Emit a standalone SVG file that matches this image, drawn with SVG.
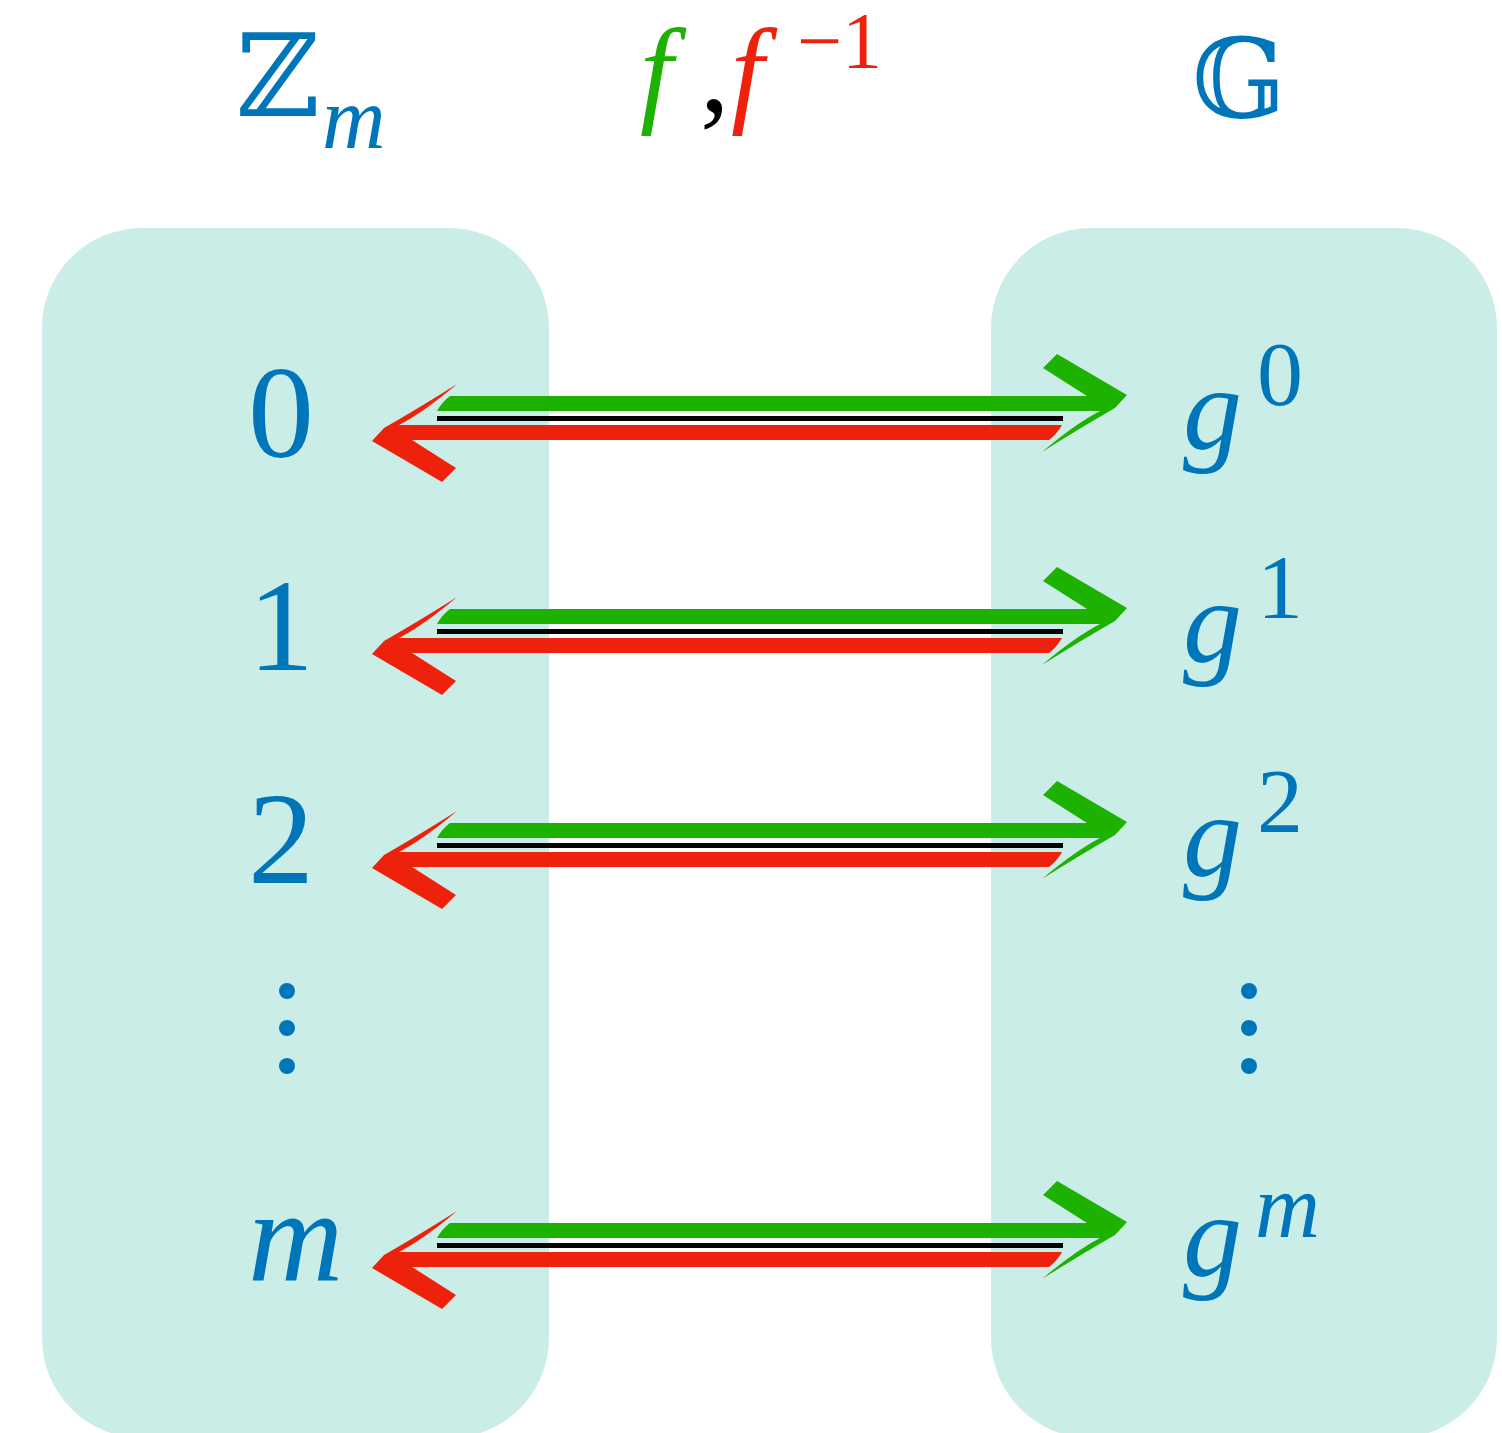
<svg xmlns="http://www.w3.org/2000/svg" xmlns:xlink="http://www.w3.org/1999/xlink" width="1502" height="1433" viewBox="0 0 1502 1433">
<style>
.box{fill:#CBEDE7}
.t{fill:#0076BA}
.it{font-style:italic}
.g{fill:#1DB100}
.r{fill:#EE220C}
.k{fill:#000}
.dot{fill:#0076BA}
</style>
<defs>
<path id="arr" d="M450,396 L1087,396 L1043,368 L1057,354 L1127,395 L1115,408 Q1080,428 1042,452 Q1075,424 1100,411 L437,411 Q442,402 450,396 Z"/>
<g id="pair">
<use xlink:href="#arr" class="g"/>
<rect class="k" x="437" y="416" width="626" height="5"/>
<use xlink:href="#arr" class="r" transform="rotate(180 749.5 418)"/>
</g>
</defs>
<rect width="1502" height="1433" fill="#fff"/>
<g id="title-Z" font-family="Liberation Serif, DejaVu Serif, serif">
<text class="t" x="236" y="116" font-size="115">ℤ</text>
<text class="t it" x="322" y="148" font-size="88">m</text>
</g>
<g id="title-f" font-family="Liberation Serif, serif">
<text font-style="italic" x="640" y="111" font-size="118" fill="#1DB100">f</text>
<text x="700" y="111" font-size="118" fill="#000">,</text>
<text font-style="italic" x="731" y="111" font-size="118" fill="#EE220C">f</text>
<text x="797" y="68" font-size="80" fill="#EE220C">−1</text>
</g>
<g id="title-G" font-family="Liberation Serif, DejaVu Serif, serif">
<text class="t" x="1239" y="117" font-size="110" text-anchor="middle">𝔾</text>
</g>
<g id="set-Zm" font-family="Liberation Serif, serif">
<rect class="box" x="42" y="228" width="507" height="1210" rx="100" ry="100"/>
<text class="t" x="281" y="457" font-size="132" text-anchor="middle">0</text>
<text class="t" x="281" y="670" font-size="132" text-anchor="middle">1</text>
<text class="t" x="281" y="883" font-size="132" text-anchor="middle">2</text>
<circle class="dot" cx="287" cy="991" r="8"/>
<circle class="dot" cx="287" cy="1028" r="8"/>
<circle class="dot" cx="287" cy="1066" r="8"/>
<text class="t" font-style="italic" x="248" y="1280" font-size="132">m</text>
</g>
<g id="set-G" font-family="Liberation Serif, serif">
<rect class="box" x="991" y="228" width="506" height="1210" rx="100" ry="100"/>
<text class="t" font-style="italic" x="1183" y="449" font-size="118">g</text>
<text class="t" x="1257" y="405" font-size="92">0</text>
<text class="t" font-style="italic" x="1183" y="662" font-size="118">g</text>
<text class="t" x="1257" y="618" font-size="92">1</text>
<text class="t" font-style="italic" x="1183" y="876" font-size="118">g</text>
<text class="t" x="1257" y="832" font-size="92">2</text>
<circle class="dot" cx="1249" cy="991" r="8"/>
<circle class="dot" cx="1249" cy="1028" r="8"/>
<circle class="dot" cx="1249" cy="1066" r="8"/>
<text class="t" font-style="italic" x="1183" y="1276" font-size="118">g</text>
<text class="t" font-style="italic" x="1255" y="1237" font-size="90">m</text>
</g>
<g id="connectors">
<use xlink:href="#pair"/>
<use xlink:href="#pair" transform="translate(0,213)"/>
<use xlink:href="#pair" transform="translate(0,427)"/>
<use xlink:href="#pair" transform="translate(0,827)"/>
</g>
</svg>
